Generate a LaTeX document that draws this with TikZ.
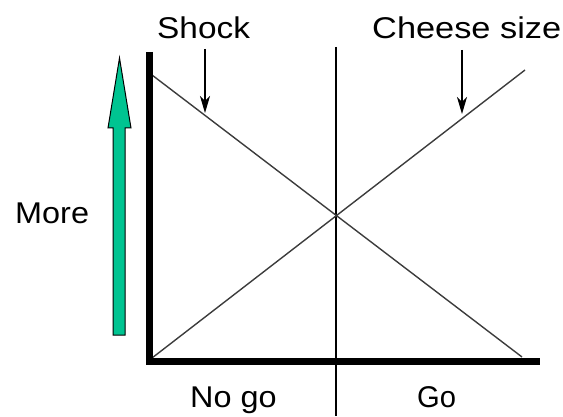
\documentclass[tikz,border=0pt]{standalone}
\usepackage{fontspec}
\setmainfont{Liberation Sans}
\usetikzlibrary{arrows.meta}
\definecolor{arrowgreen}{RGB}{0,196,145}
\definecolor{linegray}{RGB}{60,60,60}
\begin{document}
\begin{tikzpicture}[x=1pt,y=1pt,
  lbl/.style={inner sep=0pt, anchor=base west, font=\fontsize{30}{36}\selectfont, xscale=1.08},
  axisline/.style={line width=7pt, line join=miter},
  diag/.style={line width=1.4pt, draw=linegray},
  pointer/.style={line width=1.3pt, -{Stealth[length=17pt,width=10pt,inset=5pt]}},
  sep/.style={line width=1.5pt}]
\useasboundingbox (0,0) rectangle (563,416);
% labels
\node[lbl, xscale=1.03] (shock) at (157,377) {Shock};
\node[lbl, xscale=1.06] (cheese) at (372,377) {Cheese size};
\node[lbl] (more) at (15,193) {More};
\node[lbl] (nogo) at (190,9) {No go};
\node[lbl, xscale=0.9] (go) at (417,9) {Go};
% green arrow
\draw[line width=1pt, fill=arrowgreen] (113,81) -- (113,288) -- (108,288) -- (119.5,358) -- (131,288) -- (125,288) -- (125,81) -- cycle;
% separator
\coordinate (septop) at (336,369);
\coordinate (sepbot) at (336,0);
\draw[sep] (septop) -- (sepbot);
% diagonals
\coordinate (s1) at (152,341);
\coordinate (s2) at (522,59);
\coordinate (c1) at (152,58);
\coordinate (c2) at (525,346);
\draw[diag] (s1) -- (s2);
\draw[diag] (c1) -- (c2);
% axes
\coordinate (ytop) at (149,364);
\coordinate (orig) at (149,55);
\coordinate (xend) at (540,55);
\draw[axisline] (ytop) -- (orig) -- (xend);
% pointers
\coordinate (sa) at (205,367);
\coordinate (sb) at (205,303);
\coordinate (ca) at (462,366);
\coordinate (cb) at (462,302);
\draw[pointer] (sa) -- (sb);
\draw[pointer] (ca) -- (cb);
\end{tikzpicture}
\end{document}
